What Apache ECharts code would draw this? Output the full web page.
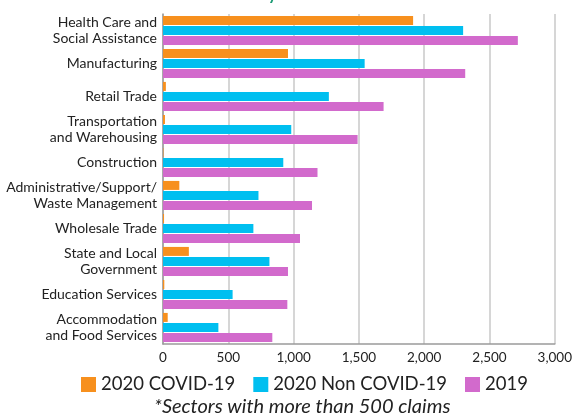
<!DOCTYPE html>
<html>
<head>
<meta charset="utf-8">
<script src="https://cdn.jsdelivr.net/npm/echarts@6/dist/echarts.min.js"></script>
<style>
  html, body { margin: 0; padding: 0; background: #fff; }
  #chart { width: 575px; height: 416px; }
</style>
</head>
<body>
<div id="chart"></div>
<script>
  // sectors, top to bottom
  var categories = [
    'Health Care and\nSocial Assistance',
    'Manufacturing',
    'Retail Trade',
    'Transportation\nand Warehousing',
    'Construction',
    'Administrative/Support/\nWaste Management',
    'Wholesale Trade',
    'State and Local\nGovernment',
    'Education Services',
    'Accommodation\nand Food Services'
  ];
  var covid2020 = [1915, 957, 22, 15, 3, 125, 8, 198, 10, 36];
  var nonCovid2020 = [2298, 1544, 1270, 982, 921, 731, 692, 815, 533, 424];
  var claims2019 = [2717, 2314, 1689, 1490, 1183, 1141, 1049, 957, 952, 837];
  var xTicks = [0, 500, 1000, 1500, 2000, 2500, 3000];

  var font = 'Lato, "Open Sans", sans-serif';
  var chart = echarts.init(document.getElementById('chart'));

  var option = {
    animation: false,
    textStyle: { fontFamily: font },
    graphic: [
      // bottom of the title that is cut off above the picture
      {
        type: 'text', left: 268, top: -14,
        style: { text: 'y', fill: '#1c9b74', font: 'bold 17px ' + font }
      },
      {
        type: 'text', left: 154, top: 397,
        style: {
          text: '*Sectors with more than 500 claims',
          fill: '#222', font: 'italic 20px ' + font
        }
      }
    ],
    legend: {
      bottom: 17,
      left: 76,
      itemWidth: 15,
      itemHeight: 15,
      itemGap: 18,
      icon: 'rect',
      textStyle: { fontSize: 18.5, color: '#222', fontFamily: font },
      data: ['2020 COVID-19', '2020 Non COVID-19', '2019']
    },
    grid: { left: 163, right: 16, top: 14, bottom: 72, containLabel: false },
    xAxis: {
      type: 'value',
      min: 0,
      max: 3000,
      interval: 500,
      axisLine: { show: true, lineStyle: { color: '#9a9a9a', width: 1.5 } },
      axisTick: { show: false },
      splitLine: { show: true, lineStyle: { color: '#c8c8c8', width: 1.5 } },
      axisLabel: {
        color: '#222', fontSize: 13.5, margin: 7,
        formatter: function (v) { return xTicks.indexOf(v) >= 0 ? v.toLocaleString('en-US') : ''; }
      }
    },
    yAxis: {
      type: 'category',
      inverse: true,
      data: categories,
      axisLine: { show: true, lineStyle: { color: '#9a9a9a', width: 1.5 } },
      axisTick: { show: false },
      axisLabel: { color: '#222', fontSize: 14, lineHeight: 16.5, margin: 6, align: 'right' }
    },
    series: [
      { name: '2020 COVID-19', type: 'bar', data: covid2020, barWidth: 9, barGap: '12%',
        itemStyle: { color: '#f7901e' } },
      { name: '2020 Non COVID-19', type: 'bar', data: nonCovid2020, barWidth: 9, barGap: '12%',
        itemStyle: { color: '#00bff0' } },
      { name: '2019', type: 'bar', data: claims2019, barWidth: 9, barGap: '12%',
        itemStyle: { color: '#d26acc' } }
    ]
  };

  chart.setOption(option);
</script>
</body>
</html>
